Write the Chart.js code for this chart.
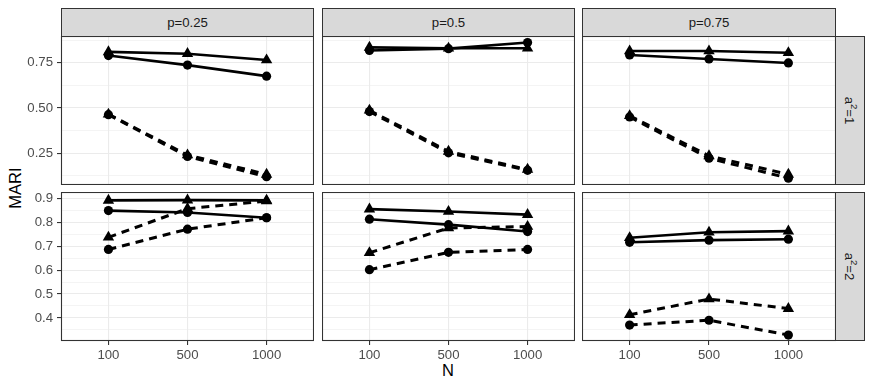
<!DOCTYPE html>
<html>
<head>
<meta charset="utf-8">
<script src="https://cdn.jsdelivr.net/npm/chart.js@4"></script>
<style>
  body { margin: 0; background: #fff; font-family: "Liberation Sans", Arial, sans-serif; }
  #wrap { position: relative; width: 872px; height: 388px; overflow: hidden; }
  canvas { position: absolute; }
  .strip { position: absolute; background: #D9D9D9; border: 1px solid #333; box-sizing: border-box;
           color: #1A1A1A; font-size: 13.2px; display: flex; align-items: center; justify-content: center; }
  .vtext { transform: rotate(90deg); white-space: nowrap; }
  .vtext sup { font-size: 9.5px; vertical-align: 6px; line-height: 0; }
  .title { position: absolute; font-size: 16.5px; color: #000; white-space: nowrap; }
</style>
</head>
<body>
<div id="wrap">
  <div class="strip" style="left:61px;top:8px;width:253px;height:29px;">p=0.25</div>
  <div class="strip" style="left:322px;top:8px;width:253px;height:29px;">p=0.5</div>
  <div class="strip" style="left:582px;top:8px;width:254px;height:29px;">p=0.75</div>
  <div class="strip" style="left:835px;top:36px;width:30px;height:149px;"><span class="vtext">a<sup>2</sup>=1</span></div>
  <div class="strip" style="left:835px;top:192px;width:30px;height:149px;"><span class="vtext">a<sup>2</sup>=2</span></div>
  <div class="title" style="left:15px;top:188px;transform:translate(-50%,-50%) rotate(-90deg);">MARI</div>
  <div class="title" style="left:448px;top:370px;transform:translate(-50%,-50%);">N</div>
  <canvas id="c11" width="314" height="149" style="left:0;top:36px"></canvas>
  <canvas id="c12" width="253" height="149" style="left:322px;top:36px"></canvas>
  <canvas id="c13" width="254" height="149" style="left:582px;top:36px"></canvas>
  <canvas id="c21" width="314" height="179" style="left:0;top:192px"></canvas>
  <canvas id="c22" width="253" height="179" style="left:322px;top:192px"></canvas>
  <canvas id="c23" width="254" height="179" style="left:582px;top:192px"></canvas>
</div>
<script>
// x categories
const nLabels = ["100", "500", "1000"];

// y axis ticks per row (major labelled, minor only grid)
const row1Major = [0.25, 0.5, 0.75];
const row1Minor = [0.125, 0.375, 0.625, 0.875];
const row1Range = [0.074, 0.898];
const row2Major = [0.4, 0.5, 0.6, 0.7, 0.8, 0.9];
const row2Minor = [0.35, 0.45, 0.55, 0.65, 0.75, 0.85];
const row2Range = [0.303, 0.928];

// a^2 = 1
const a1p25TriSolid = [0.81, 0.80, 0.765];
const a1p25CircSolid = [0.79, 0.737, 0.676];
const a1p25TriDash = [0.465, 0.24, 0.133];
const a1p25CircDash = [0.463, 0.232, 0.12];

const a1p50TriSolid = [0.835, 0.83, 0.83];
const a1p50CircSolid = [0.818, 0.828, 0.862];
const a1p50TriDash = [0.487, 0.26, 0.16];
const a1p50CircDash = [0.48, 0.252, 0.155];

const a1p75TriSolid = [0.815, 0.815, 0.805];
const a1p75CircSolid = [0.793, 0.771, 0.749];
const a1p75TriDash = [0.457, 0.235, 0.133];
const a1p75CircDash = [0.45, 0.222, 0.112];

// a^2 = 2
const a2p25TriSolid = [0.893, 0.894, 0.893];
const a2p25CircSolid = [0.85, 0.842, 0.82];
const a2p25TriDash = [0.738, 0.858, 0.89];
const a2p25CircDash = [0.687, 0.772, 0.82];

const a2p50TriSolid = [0.856, 0.846, 0.833];
const a2p50CircSolid = [0.814, 0.791, 0.762];
const a2p50TriDash = [0.673, 0.777, 0.783];
const a2p50CircDash = [0.602, 0.675, 0.687];

const a2p75TriSolid = [0.736, 0.759, 0.764];
const a2p75CircSolid = [0.717, 0.726, 0.73];
const a2p75TriDash = [0.413, 0.479, 0.439];
const a2p75CircDash = [0.37, 0.39, 0.328];

const toPoints = (vals) => vals.map((v, i) => ({ x: i + 1, y: v }));

const makeSet = (vals, shape, dashed) => ({
  data: toPoints(vals),
  borderColor: "#000",
  backgroundColor: "#000",
  borderWidth: dashed ? 3 : 2.6,
  borderDash: dashed ? [8, 6] : [],
  pointStyle: shape,
  pointRadius: shape === "triangle" ? 6.6 : 4.6,
  pointBorderWidth: 0,
  pointBackgroundColor: "#000",
  tension: 0,
});

//draws the panel border on top
const borderPlugin = {
  id: "panelBorder",
  afterDraw(chart) {
    const a = chart.chartArea;
    const ctx = chart.ctx;
    ctx.save();
    ctx.strokeStyle = "#333";
    ctx.lineWidth = 1.1;
    ctx.strokeRect(Math.round(a.left) + 0.5, Math.round(a.top) + 0.5,
      Math.round(a.right - a.left) - 1, Math.round(a.bottom - a.top) - 1);
    ctx.restore();
  },
};

const tickFont = { family: "'Liberation Sans', Arial, sans-serif", size: 13.2 };

const makePanel = (id, sets, range, major, minor, showY, showX) => {
  const allY = [...minor, ...major].sort((a, b) => a - b);
  const digits = major === row1Major ? 2 : 1;
  return new Chart(document.getElementById(id), {
    type: "line",
    data: {
      datasets: [
        makeSet(sets[0], "triangle", false),
        makeSet(sets[1], "circle", false),
        makeSet(sets[2], "triangle", true),
        makeSet(sets[3], "circle", true),
      ],
    },
    plugins: [borderPlugin],
    options: {
      responsive: false,
      animation: false,
      devicePixelRatio: 1,
      layout: { padding: 0, autoPadding: false },
      plugins: { legend: { display: false }, tooltip: { enabled: false } },
      scales: {
        x: {
          type: "linear",
          min: 0.4,
          max: 3.6,
          border: { display: false },
          afterBuildTicks: (s) => { s.ticks = nLabels.map((_, i) => ({ value: i + 1 })); },
          afterFit: (s) => {
            s.height = showX ? 30 : 0;
            s.paddingLeft = 0; s.paddingRight = 0;
          },
          grid: {
            color: "#EBEBEB",
            lineWidth: 1.1,
            drawTicks: showX,
            tickLength: 4,
            tickColor: "#333",
          },
          ticks: {
            display: showX,
            autoSkip: false,
            font: tickFont,
            color: "#4D4D4D",
            padding: 2,
            maxRotation: 0,
            callback: (v) => nLabels[Math.round(v) - 1],
          },
        },
        y: {
          min: range[0],
          max: range[1],
          border: { display: false },
          afterBuildTicks: (s) => { s.ticks = allY.map((v) => ({ value: v })); },
          afterFit: (s) => {
            s.width = showY ? 61 : 0;
            s.paddingTop = 0; s.paddingBottom = 0;
          },
          grid: {
            color: "#EBEBEB",
            lineWidth: (c) => (major.includes(c.tick.value) ? 1.1 : 0.55),
            drawTicks: showY,
            tickLength: 4,
            tickColor: (c) => (major.includes(c.tick.value) ? "#333" : "rgba(0,0,0,0)"),
          },
          ticks: {
            display: showY,
            autoSkip: false,
            font: tickFont,
            color: "#4D4D4D",
            padding: 4,
            callback: (v) => (major.includes(v) ? v.toFixed(digits) : ""),
          },
        },
      },
    },
  });
};

makePanel("c11", [a1p25TriSolid, a1p25CircSolid, a1p25TriDash, a1p25CircDash], row1Range, row1Major, row1Minor, true, false);
makePanel("c12", [a1p50TriSolid, a1p50CircSolid, a1p50TriDash, a1p50CircDash], row1Range, row1Major, row1Minor, false, false);
makePanel("c13", [a1p75TriSolid, a1p75CircSolid, a1p75TriDash, a1p75CircDash], row1Range, row1Major, row1Minor, false, false);
makePanel("c21", [a2p25TriSolid, a2p25CircSolid, a2p25TriDash, a2p25CircDash], row2Range, row2Major, row2Minor, true, true);
makePanel("c22", [a2p50TriSolid, a2p50CircSolid, a2p50TriDash, a2p50CircDash], row2Range, row2Major, row2Minor, false, true);
makePanel("c23", [a2p75TriSolid, a2p75CircSolid, a2p75TriDash, a2p75CircDash], row2Range, row2Major, row2Minor, false, true);
</script>
</body>
</html>
